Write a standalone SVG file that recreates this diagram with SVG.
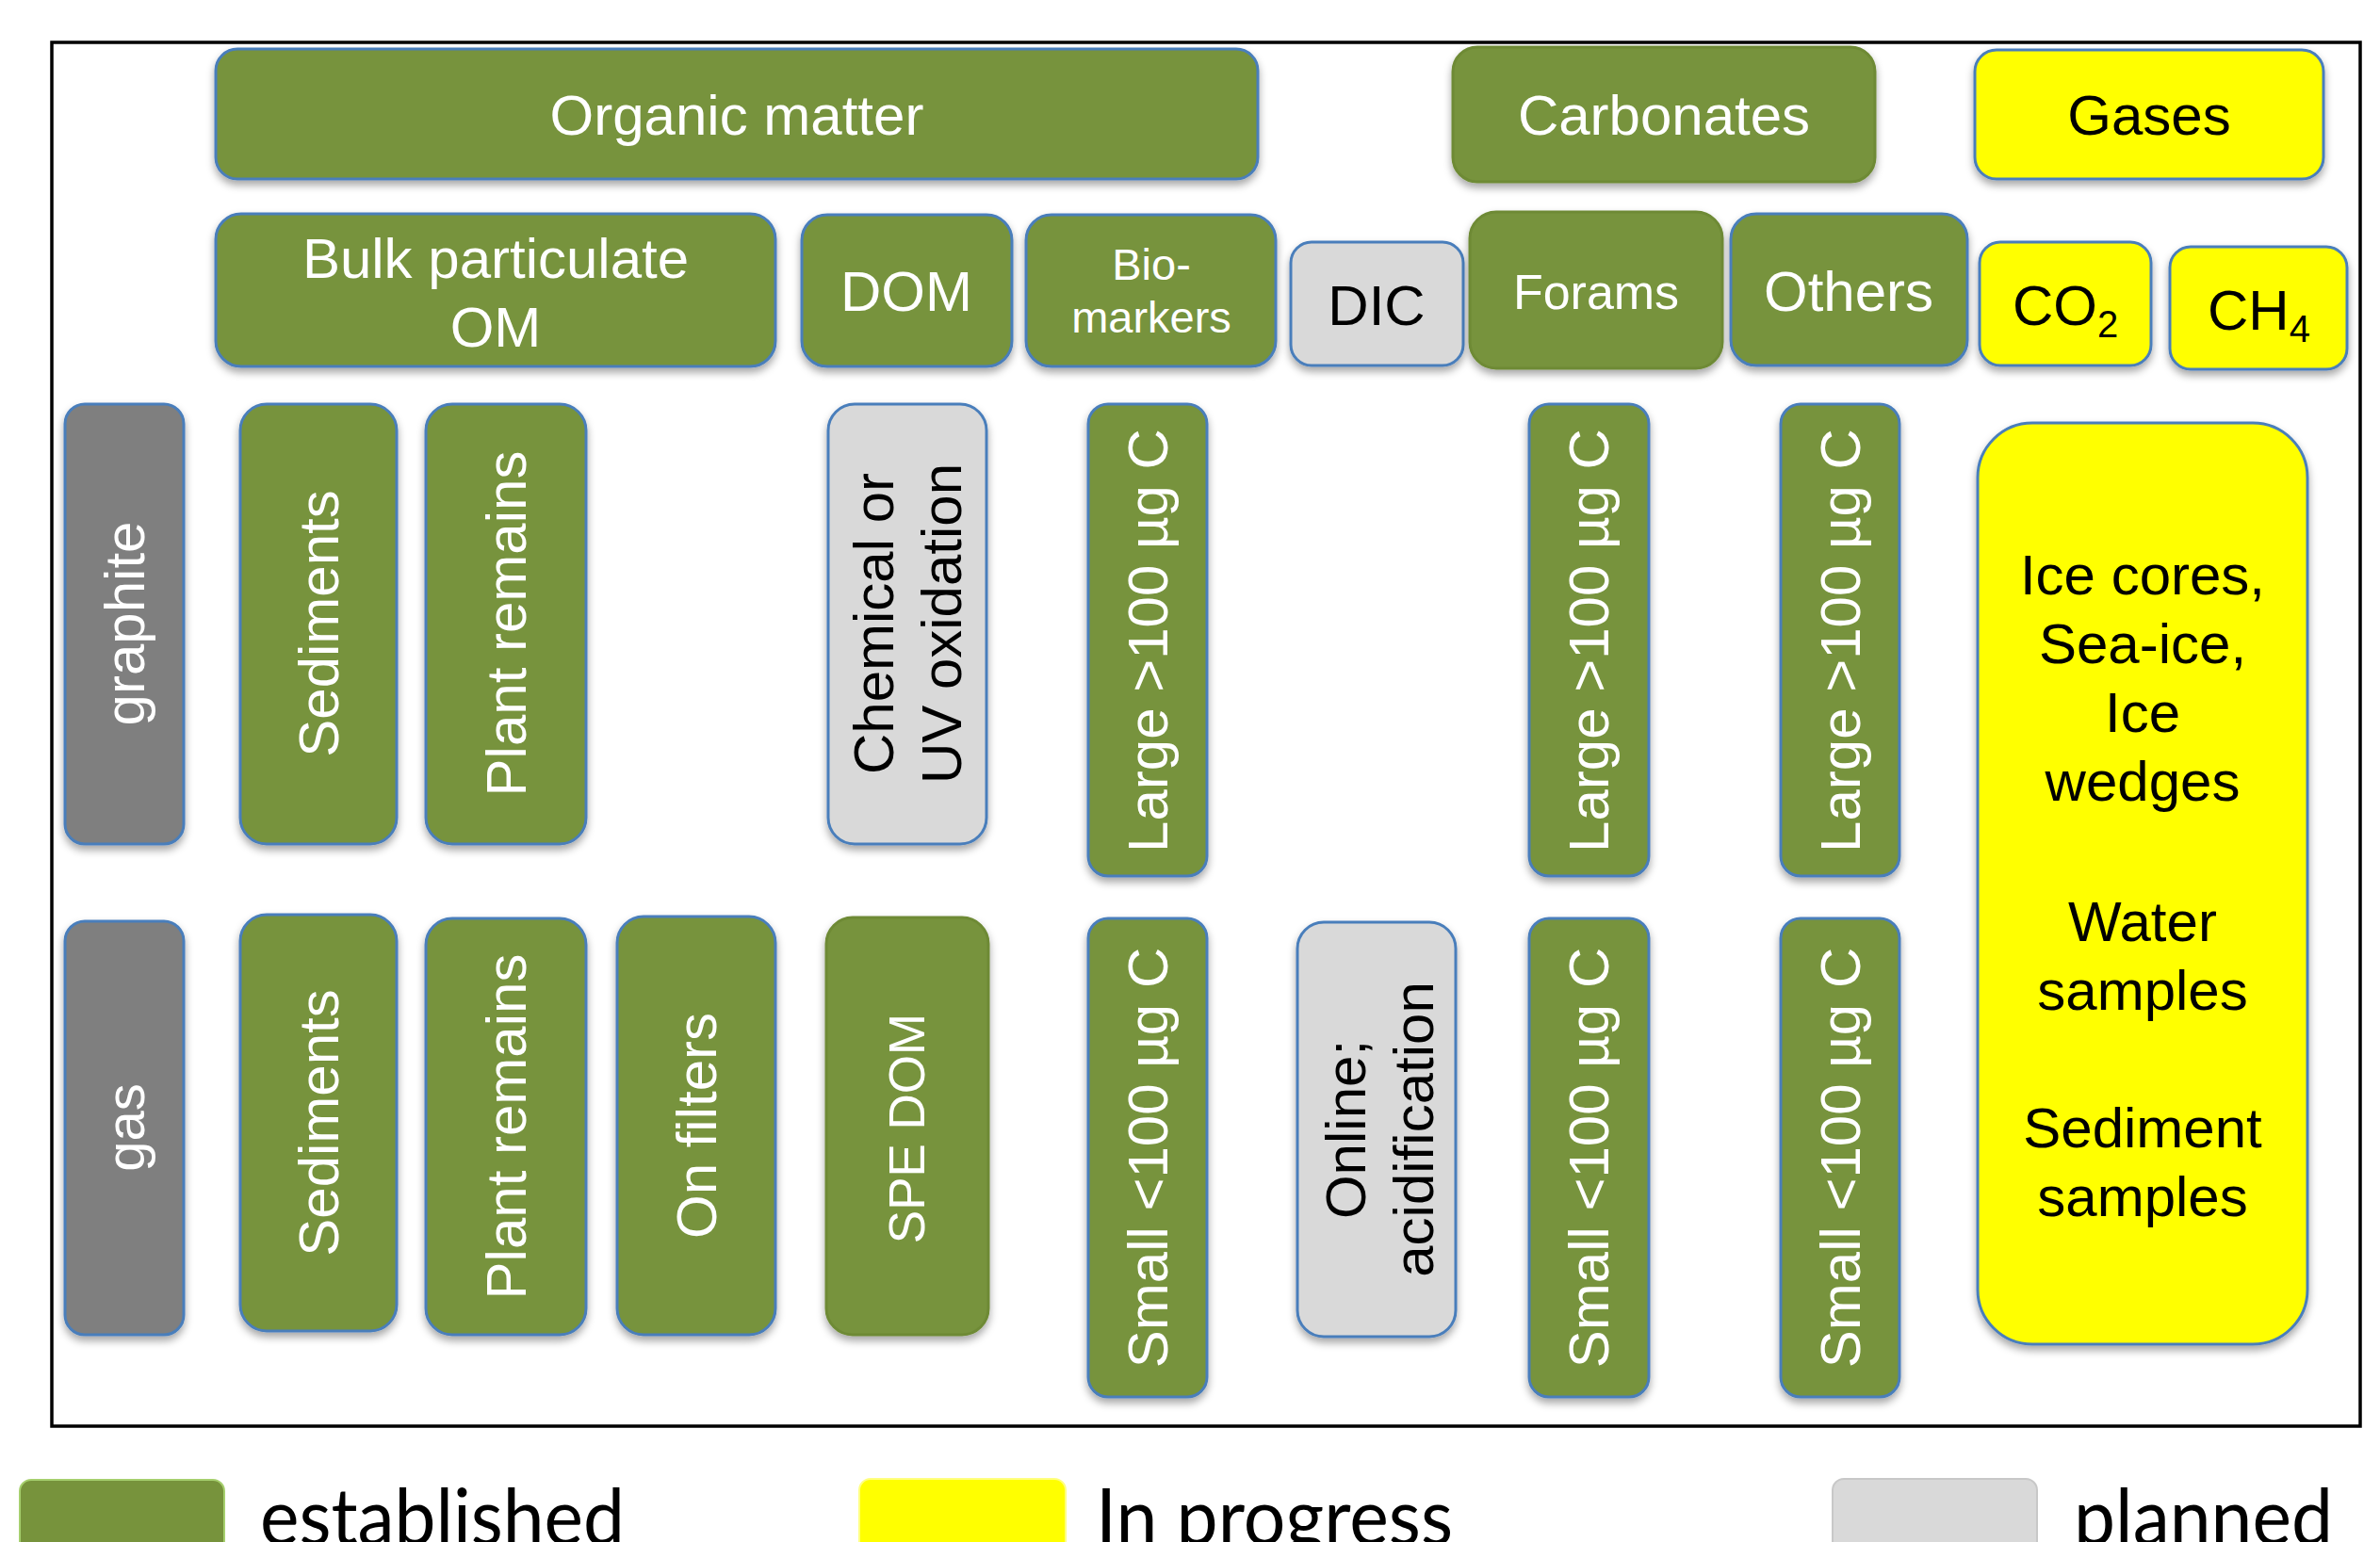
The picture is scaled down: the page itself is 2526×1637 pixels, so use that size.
<svg xmlns="http://www.w3.org/2000/svg" width="2526" height="1637" viewBox="0 0 2526 1637">
<style>
.box{stroke:#4A7EBB;stroke-width:3;filter:url(#sh)}
.gr{fill:#77933C}
.gn{fill:#77933C;stroke:#6E8A36;stroke-width:3;filter:url(#sh)}
.ye{fill:#FFFF00}
.lg{fill:#D9D9D9}
.dg{fill:#7F7F7F}
text{font-family:"Liberation Sans",Arial,Helvetica,sans-serif;font-size:60px}
.w{fill:#FFFFFF}
.k{fill:#000000}
.c{text-anchor:middle}
.leg{font-family:Lato,"Open Sans",Calibri,sans-serif;font-size:84px;fill:#000}
</style>
<defs>
<filter id="sh" x="-20%" y="-20%" width="140%" height="140%">
<feDropShadow dx="0" dy="5" stdDeviation="4" flood-color="#000" flood-opacity="0.35"/>
</filter>
</defs>
<rect x="0" y="0" width="2526" height="1637" fill="#FFFFFF"/>
<rect id="frame" x="55" y="45" width="2450" height="1469" fill="none" stroke="#000" stroke-width="3.5"/>

<g id="organic-matter"><rect class="box gr" x="229" y="52" width="1106" height="138" rx="23"/><text class="w c" x="782" y="143">Organic matter</text></g>
<g id="carbonates"><rect class="gn" x="1542" y="50" width="448" height="143" rx="26"/><text class="w c" x="1766" y="143">Carbonates</text></g>
<g id="gases"><rect class="box ye" x="2096" y="53" width="370" height="137" rx="23"/><text class="k c" x="2281" y="143">Gases</text></g>

<g id="bulk-pom"><rect class="box gr" x="229" y="227" width="594" height="162" rx="27"/><text class="w c" x="526" y="295">Bulk particulate</text><text class="w c" x="526" y="368">OM</text></g>
<g id="dom"><rect class="box gr" x="851" y="228" width="223" height="161" rx="27"/><text class="w c" x="962" y="330">DOM</text></g>
<g id="biomarkers"><rect class="box gr" x="1089" y="228" width="265" height="161" rx="27"/><text class="w c" x="1222" y="297" style="font-size:47px">Bio-</text><text class="w c" x="1222" y="353" style="font-size:47px">markers</text></g>
<g id="dic"><rect class="box lg" x="1370" y="257" width="183" height="131" rx="22"/><text class="k c" x="1461" y="345">DIC</text></g>
<g id="forams"><rect class="gn" x="1560" y="225" width="268" height="166" rx="28"/><text class="w c" x="1694" y="328" style="font-size:52px">Forams</text></g>
<g id="others"><rect class="box gr" x="1837" y="227" width="251" height="161" rx="27"/><text class="w c" x="1962" y="330">Others</text></g>
<g id="co2"><rect class="box ye" x="2101" y="257" width="182" height="131" rx="22"/><text class="k" x="2136" y="345">CO<tspan style="font-size:40px" dy="13">2</tspan></text></g>
<g id="ch4"><rect class="box ye" x="2303" y="262" width="188" height="130" rx="22"/><text class="k" x="2343" y="350">CH<tspan style="font-size:40px" dy="13">4</tspan></text></g>

<g id="graphite"><rect class="box dg" x="69" y="429" width="126" height="467" rx="21"/><text class="w c" transform="translate(153,662) rotate(-90)">graphite</text></g>
<g id="sediments-graphite"><rect class="box gr" x="255" y="429" width="166" height="467" rx="28"/><text class="w c" transform="translate(359,662) rotate(-90)">Sediments</text></g>
<g id="plant-remains-graphite"><rect class="box gr" x="452" y="429" width="170" height="467" rx="28"/><text class="w c" transform="translate(558,662) rotate(-90)">Plant remains</text></g>
<g id="chem-uv-oxidation"><rect class="box lg" x="879" y="429" width="168" height="467" rx="28"/><text class="k c" transform="translate(948,662) rotate(-90)">Chemical or</text><text class="k c" transform="translate(1020,662) rotate(-90)">UV oxidation</text></g>
<g id="biomarkers-large"><rect class="box gr" x="1155" y="429" width="126" height="501" rx="21"/><text class="w c" transform="translate(1239,680) rotate(-90)">Large &gt;100 µg C</text></g>
<g id="forams-large"><rect class="box gr" x="1623" y="429" width="127" height="501" rx="21"/><text class="w c" transform="translate(1707,680) rotate(-90)">Large &gt;100 µg C</text></g>
<g id="others-large"><rect class="box gr" x="1890" y="429" width="126" height="501" rx="21"/><text class="w c" transform="translate(1974,680) rotate(-90)">Large &gt;100 µg C</text></g>
<g id="gas-samples"><rect class="box ye" x="2099" y="449" width="350" height="978" rx="58"/>
<text class="k c" x="2274" y="631">Ice cores,</text>
<text class="k c" x="2274" y="704">Sea-ice,</text>
<text class="k c" x="2274" y="777">Ice</text>
<text class="k c" x="2274" y="850">wedges</text>
<text class="k c" x="2274" y="999">Water</text>
<text class="k c" x="2274" y="1072">samples</text>
<text class="k c" x="2274" y="1218">Sediment</text>
<text class="k c" x="2274" y="1291">samples</text></g>

<g id="gas"><rect class="box dg" x="69" y="978" width="126" height="439" rx="21"/><text class="w c" style="font-size:58px" transform="translate(153,1197) rotate(-90)">gas</text></g>
<g id="sediments-gas"><rect class="box gr" x="255" y="971" width="166" height="442" rx="28"/><text class="w c" transform="translate(359,1192) rotate(-90)">Sediments</text></g>
<g id="plant-remains-gas"><rect class="box gr" x="452" y="975" width="170" height="442" rx="28"/><text class="w c" transform="translate(558,1196) rotate(-90)">Plant remains</text></g>
<g id="on-filters"><rect class="box gr" x="655" y="973" width="168" height="444" rx="28"/><text class="w c" transform="translate(760,1195) rotate(-90)">On filters</text></g>
<g id="spe-dom"><rect class="gn" x="877" y="974" width="172" height="443" rx="28"/><text class="w c" style="font-size:53px" transform="translate(981,1198) rotate(-90)">SPE DOM</text></g>
<g id="biomarkers-small"><rect class="box gr" x="1155" y="975" width="126" height="508" rx="21"/><text class="w c" transform="translate(1239,1229) rotate(-90)">Small &lt;100 µg C</text></g>
<g id="online-acidification"><rect class="box lg" x="1377" y="979" width="168" height="440" rx="28"/><text class="k c" transform="translate(1449,1199) rotate(-90)">Online;</text><text class="k c" transform="translate(1521,1199) rotate(-90)">acidification</text></g>
<g id="forams-small"><rect class="box gr" x="1623" y="975" width="127" height="508" rx="21"/><text class="w c" transform="translate(1707,1229) rotate(-90)">Small &lt;100 µg C</text></g>
<g id="others-small"><rect class="box gr" x="1890" y="975" width="126" height="508" rx="21"/><text class="w c" transform="translate(1974,1229) rotate(-90)">Small &lt;100 µg C</text></g>

<g id="connectors"></g>

<g id="legend">
<g id="legend-established"><rect x="21" y="1571" width="217" height="100" rx="12" fill="#77933C" stroke="#A6CF6E" stroke-width="2"/><text class="leg" x="276" y="1640" textLength="387" lengthAdjust="spacingAndGlyphs">established</text></g>
<g id="legend-in-progress"><rect x="912" y="1570" width="219" height="100" rx="12" fill="#FFFF00" stroke="#FFFF80" stroke-width="2"/><text class="leg" x="1163" y="1640" textLength="379" lengthAdjust="spacingAndGlyphs">In progress</text></g>
<g id="legend-planned"><rect x="1945" y="1570" width="217" height="100" rx="12" fill="#D9D9D9" stroke="#C8C8C8" stroke-width="2"/><text class="leg" x="2201" y="1640" textLength="275" lengthAdjust="spacingAndGlyphs">planned</text></g>
</g>
</svg>
